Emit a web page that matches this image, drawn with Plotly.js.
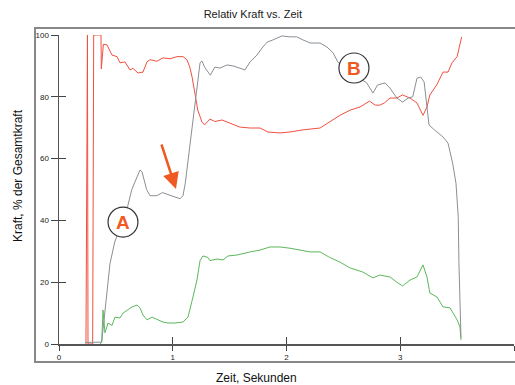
<!DOCTYPE html>
<html>
<head>
<meta charset="utf-8">
<script src="https://cdn.plot.ly/plotly-3.0.1.min.js"></script>
<style>html,body{margin:0;padding:0;background:#fff;}#chart{width:515px;height:385px;}</style>
</head>
<body>
<div id="chart"></div>
<script>
// Time in seconds and relative force in % of total force
const grayT = [0.23,0.30,0.375,0.424,0.448,0.49,0.51,0.56,0.60,0.64,0.712,0.73,0.77,0.80,0.86,0.91,0.95,0.976,1.02,1.064,1.09,1.11,1.15,1.196,1.24,1.257,1.28,1.33,1.37,1.415,1.477,1.53,1.59,1.635,1.68,1.74,1.785,1.83,1.88,1.96,2.03,2.09,2.145,2.21,2.295,2.356,2.41,2.45,2.52,2.60,2.705,2.76,2.80,2.866,2.91,2.97,3.02,3.07,3.11,3.147,3.18,3.21,3.235,3.253,3.30,3.376,3.42,3.46,3.49,3.51,3.516,3.534];
const grayY = [0.5,0.5,0.6,17.5,26,33,35,40,44,50,56.3,55.7,50,48,48,49,48.5,48,47.6,47,48,52,64,78,91,91.6,89.6,87,89.6,89.3,90.3,90,89.3,88.7,91.3,93.5,95.8,97.7,98.4,99.7,99.4,99.4,98.4,97.4,97.4,96.1,94.2,91.3,89,87,84.5,81.2,83.8,84.5,82.8,79.6,78.3,79.6,80,86,86.4,84.8,77.3,70.9,69.3,67,65,58.6,52,41,26,2];

const redT = [0.237,0.245,0.250,0.255,0.296,0.305,0.369,0.372,0.39,0.422,0.448,0.466,0.51,0.536,0.58,0.607,0.624,0.65,0.695,0.738,0.774,0.80,0.86,0.914,0.976,1.037,1.09,1.125,1.15,1.17,1.196,1.22,1.257,1.28,1.327,1.37,1.433,1.50,1.59,1.68,1.767,1.837,1.943,2.03,2.145,2.295,2.38,2.47,2.56,2.646,2.73,2.78,2.82,2.86,2.91,2.97,3.02,3.086,3.147,3.20,3.235,3.26,3.32,3.376,3.42,3.455,3.50,3.52,3.54];
const redY = [0,100,100,0,0,100,100,89,97,96.8,95,93.5,93,91,91.3,89.6,88.7,89.2,87.7,88,91.3,92,91.5,92.6,92.3,93,93,92,89.6,86.4,80.6,75.7,71.8,70.9,72.8,72,72.5,71.5,70.2,69.9,69.9,68.6,68.3,68.6,69.3,69.9,71.8,74,75.7,76.7,78.6,77.3,77.3,78,79.6,79.6,80.6,79.6,78,74,76.7,80.6,83.8,88,88,91,93,96,99.4];

const greenT = [0.36,0.375,0.387,0.404,0.431,0.466,0.492,0.536,0.563,0.607,0.642,0.686,0.712,0.738,0.774,0.818,0.862,0.914,0.958,1.02,1.09,1.134,1.17,1.213,1.24,1.266,1.31,1.327,1.389,1.442,1.486,1.565,1.68,1.767,1.855,1.943,2.03,2.12,2.207,2.295,2.38,2.47,2.56,2.67,2.76,2.82,2.91,2.97,3.02,3.086,3.147,3.20,3.235,3.26,3.323,3.376,3.437,3.50,3.525,3.534];
const greenY = [0,0.5,11,3.6,6.8,6,8.7,8.4,10,11,12,12.6,11.7,9.4,7.8,8.7,8,7.1,6.8,6.8,7.1,8.7,14,20.7,27,28.5,28,27,27.5,27.2,28.5,28.8,29.8,30.4,31.4,31.4,31,30.4,29.8,29.8,28,26.5,24.6,23.3,21.4,22.3,21.7,20,18.8,20.7,21.7,25.6,21.7,16.5,15.2,12,11.7,7.8,5.5,1.3];

const xTicks = [0,1,2,3,4];
const yTicks = [0,20,40,60,80,100];

const traces = [
  {x: redT, y: redY, mode: 'lines', line: {color: '#f0503f', width: 1}, hoverinfo: 'skip', showlegend: false},
  {x: greenT, y: greenY, mode: 'lines', line: {color: '#5cb85c', width: 1}, hoverinfo: 'skip', showlegend: false},
  {x: grayT, y: grayY, xaxis: 'x2', yaxis: 'y2', mode: 'lines', line: {color: '#8a8f95', width: 1}, hoverinfo: 'skip', showlegend: false}
];

const tickFont = {family: 'Arial, Liberation Sans, sans-serif', size: 8, color: '#222'};
const axisBase = {showgrid: false, zeroline: false, showline: true, linecolor: '#555', linewidth: 1.5,
  ticks: 'outside', ticklen: 6, tickwidth: 1, tickcolor: '#444', tickfont: tickFont, fixedrange: true};
const orange = '#f05a22';

const layout = {
  width: 515, height: 385,
  margin: {l: 59, r: 1, t: 35, b: 41},
  paper_bgcolor: '#fff', plot_bgcolor: '#fff',
  title: {text: 'Relativ Kraft vs. Zeit', x: 0.491, xanchor: 'center', y: 0.964, yanchor: 'middle',
    font: {family: 'Arial, Liberation Sans, sans-serif', size: 11, color: '#222'}},
  xaxis: Object.assign({}, axisBase, {range: [0, 4], tickvals: xTicks, ticktext: xTicks.map(String), ticklen: 5}),
  yaxis: Object.assign({}, axisBase, {range: [0, 100], tickvals: yTicks, ticktext: yTicks.map(String), ticklen: 7}),
  xaxis2: {overlaying: 'x', anchor: 'y2', side: 'bottom', range: [0, 4], tickvals: xTicks, ticks: 'inside', ticklen: 7, tickwidth: 1,
    tickcolor: '#444', showticklabels: false, showline: false, showgrid: false, zeroline: false, fixedrange: true},
  yaxis2: {overlaying: 'y', anchor: 'x2', side: 'left', range: [0, 100], tickvals: yTicks, ticks: 'inside', ticklen: 7, tickwidth: 1,
    tickcolor: '#444', showticklabels: false, showline: false, showgrid: false, zeroline: false, fixedrange: true},
  shapes: [
    {type: 'rect', xref: 'paper', yref: 'paper', x0: -0.0527, x1: 1.05, y0: -0.0583, y1: 1.0227,
      line: {color: '#888', width: 2}, fillcolor: 'rgba(0,0,0,0)', layer: 'below'},
    {type: 'circle', xref: 'x', yref: 'y', x0: 0.431, x1: 0.694, y0: 34.6, y1: 44.3,
      line: {color: '#333', width: 1.2}, fillcolor: '#fff', layer: 'above'},
    {type: 'circle', xref: 'x', yref: 'y', x0: 2.461, x1: 2.725, y0: 84.47, y1: 94.18,
      line: {color: '#333', width: 1.2}, fillcolor: '#fff', layer: 'above'}
  ],
  annotations: [
    {text: 'A', x: 0.5626, y: 39.3, xref: 'x', yref: 'y', showarrow: false,
      font: {family: 'Arial, Liberation Sans, sans-serif', size: 19, color: orange, weight: 'bold'}},
    {text: 'B', x: 2.593, y: 89.2, xref: 'x', yref: 'y', showarrow: false,
      font: {family: 'Arial, Liberation Sans, sans-serif', size: 19, color: orange, weight: 'bold'}},
    {text: '', x: 1.0286, y: 50.16, xref: 'x', yref: 'y', showarrow: true, ax: -15, ay: -46,
      arrowcolor: orange, arrowwidth: 2.5, arrowhead: 2, arrowsize: 1.3, standoff: 0},
    {text: 'Zeit, Sekunden', xref: 'paper', yref: 'paper', x: 0.435, y: -0.11, xanchor: 'center', yanchor: 'middle',
      showarrow: false, font: {family: 'Arial, Liberation Sans, sans-serif', size: 12, color: '#111'}},
    {text: 'Kraft, % der Gesamtkraft', xref: 'paper', yref: 'paper', x: -0.0901, y: 0.5437, xanchor: 'center', yanchor: 'middle',
      textangle: -90, showarrow: false, font: {family: 'Arial, Liberation Sans, sans-serif', size: 12, color: '#111'}}
  ]
};

Plotly.newPlot('chart', traces, layout, {staticPlot: true, displayModeBar: false});
</script>
</body>
</html>
